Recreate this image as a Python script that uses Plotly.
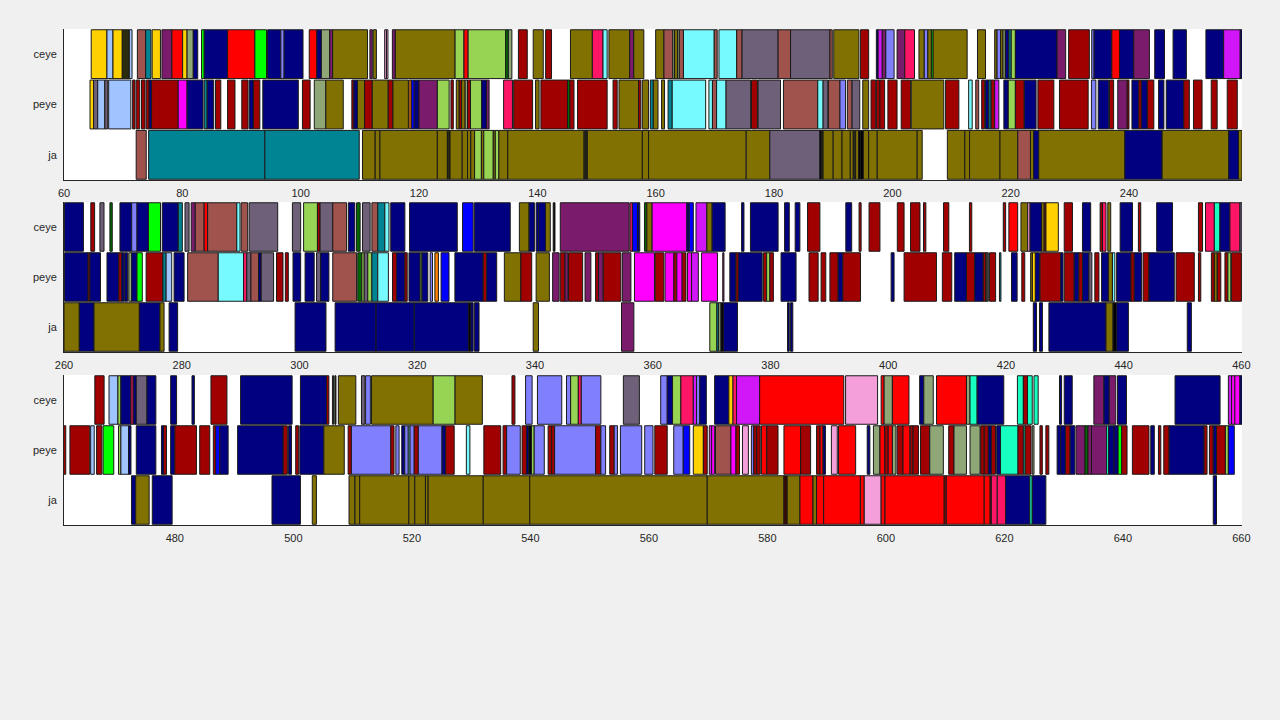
import plotly.graph_objects as go
from plotly.subplots import make_subplots

# ---------------- colours (named states) ----------------
COLORS = {
    "gold": "#FFD100", "lblue": "#A0C4FF", "dolive": "#2B2B0E", "sienna": "#A0524D",
    "teal": "#008494", "purple": "#7B1B6B", "red": "#FF0000", "ggreen": "#8FA677",
    "navy": "#000080", "green": "#00FF00", "peri": "#8080FF", "olive": "#817100",
    "dred": "#A00000", "magenta": "#FF00FF", "lgreen": "#97D454", "crimson": "#FF1565",
    "cyan": "#77FAFF", "mauve": "#6F607A", "violet": "#D116F7", "pink": "#F59FDA",
    "lpink": "#F8B4EC", "aqua": "#17FFC1", "blue": "#0000FF", "orange": "#FF8000",
    "dgreen": "#006A00", "black": "#000000", "dgray": "#404040", "dbrown": "#3A0A00",
}

CATEGORIES = ["ja", "peye", "ceye"]

# ---------------- segments: (start, end, state) ----------------
ROW1_CEYE = [
    (64.6, 67.26, "gold"), (67.26, 68.28, "lblue"), (68.28, 69.85, "gold"), (69.85, 71.04, "dolive"),
    (71.04, 71.5, "lblue"), (72.4, 73.8, "sienna"), (73.8, 74.7, "teal"), (74.9, 76.3, "gold"),
    (76.55, 78.24, "purple"), (78.24, 80.05, "red"), (80.05, 80.8, "gold"), (80.8, 81.85, "ggreen"),
    (81.85, 82.6, "navy"), (83.25, 83.7, "green"), (83.7, 87.65, "navy"), (87.65, 92.26, "red"),
    (92.26, 94.23, "green"), (94.4, 96.65, "navy"), (96.65, 97.2, "peri"), (97.2, 100.4, "navy"),
    (101.45, 102.74, "red"), (102.74, 103.5, "navy"), (103.5, 104.9, "ggreen"), (104.9, 105.4, "purple"),
    (105.4, 111.3, "olive"), (111.7, 112.1, "purple"), (112.25, 112.8, "olive"), (114.2, 114.5, "pink"),
    (114.5, 114.75, "lpink"), (115.5, 116.0, "purple"), (116.0, 126.1, "olive"), (126.1, 127.6, "lgreen"),
    (127.6, 128.3, "red"), (128.3, 134.65, "lgreen"), (134.65, 135.1, "dgreen"), (135.1, 135.7, "ggreen"),
    (136.8, 138.3, "dred"), (139.3, 141.0, "olive"), (141.4, 142.4, "dred"), (145.6, 149.3, "olive"),
    (149.3, 151.1, "crimson"), (151.1, 151.8, "cyan"), (152.1, 155.6, "olive"), (155.6, 156.3, "purple"),
    (156.3, 158.0, "olive"), (160.0, 161.4, "olive"), (161.4, 162.9, "sienna"), (162.9, 163.2, "ggreen"),
    (163.2, 163.7, "olive"), (163.7, 164.0, "ggreen"), (164.0, 164.7, "sienna"), (164.7, 169.9, "cyan"),
    (169.9, 170.4, "sienna"), (170.7, 173.7, "cyan"), (173.7, 174.6, "sienna"), (174.6, 180.7, "mauve"),
    (180.7, 182.8, "sienna"), (182.8, 189.45, "mauve"), (189.45, 189.85, "sienna"), (190.1, 194.35, "olive"),
    (194.6, 196.0, "dred"), (197.3, 197.6, "navy"), (197.6, 198.3, "violet"), (198.3, 198.9, "purple"),
    (198.9, 200.3, "peri"), (200.8, 202.1, "purple"), (202.1, 203.75, "crimson"), (204.5, 205.4, "olive"),
    (205.4, 206.0, "peri"), (206.0, 206.6, "olive"), (206.6, 206.9, "green"), (206.9, 212.65, "olive"),
    (214.4, 215.75, "olive"), (217.3, 217.7, "olive"), (217.7, 218.3, "peri"), (218.3, 218.7, "olive"),
    (218.7, 219.1, "ggreen"), (219.1, 219.7, "navy"), (219.7, 220.1, "teal"), (220.1, 220.8, "lgreen"),
    (220.8, 227.85, "navy"), (227.85, 229.3, "purple"), (229.8, 233.3, "dred"), (233.7, 234.1, "peri"),
    (234.1, 237.1, "navy"), (237.1, 238.4, "red"), (238.4, 240.8, "navy"), (240.8, 243.45, "purple"),
    (244.35, 246.0, "navy"), (247.45, 249.7, "navy"), (253.0, 256.0, "navy"), (256.0, 258.8, "violet"),
    (258.8, 259.1, "navy"),
]
ROW1_PEYE = [
    (64.4, 65.0, "gold"), (65.0, 65.7, "mauve"), (65.7, 66.9, "lblue"), (66.9, 67.4, "mauve"),
    (67.55, 71.3, "lblue"), (71.6, 72.0, "dred"), (72.2, 72.8, "dred"), (73.1, 73.7, "dred"),
    (73.9, 74.4, "dred"), (74.4, 74.8, "navy"), (74.8, 79.3, "dred"), (79.3, 80.8, "magenta"),
    (80.8, 83.5, "navy"), (83.7, 84.2, "teal"), (84.2, 85.3, "navy"), (85.6, 86.5, "dred"),
    (87.65, 88.9, "dred"), (90.05, 91.1, "dred"), (91.3, 92.0, "navy"), (92.0, 93.1, "dred"),
    (93.6, 99.6, "navy"), (100.3, 101.6, "dred"), (102.3, 104.25, "ggreen"), (104.25, 107.2, "olive"),
    (108.65, 109.0, "dred"), (109.0, 109.6, "navy"), (109.6, 110.8, "olive"), (110.8, 112.1, "dred"),
    (112.1, 114.8, "olive"), (114.8, 115.6, "dred"), (115.6, 118.2, "olive"), (118.3, 118.7, "orange"),
    (118.7, 119.2, "blue"), (119.2, 120.0, "navy"), (120.0, 123.1, "purple"), (123.1, 125.1, "lgreen"),
    (125.4, 125.8, "dred"), (126.3, 126.8, "olive"), (126.8, 127.2, "dred"), (127.2, 127.8, "olive"),
    (127.8, 128.2, "ggreen"), (128.2, 128.7, "dred"), (128.7, 130.6, "lgreen"), (130.6, 131.4, "navy"),
    (131.4, 131.85, "purple"), (134.3, 135.8, "crimson"), (136.0, 139.2, "dred"), (139.7, 140.3, "olive"),
    (140.6, 145.1, "dred"), (145.1, 145.5, "dgreen"), (145.5, 146.2, "dred"), (146.8, 151.8, "dred"),
    (152.8, 153.5, "dred"), (153.8, 157.1, "olive"), (157.1, 157.5, "dred"), (157.75, 158.8, "olive"),
    (159.1, 159.6, "teal"), (159.6, 160.4, "olive"), (161.0, 161.5, "olive"), (162.1, 162.8, "teal"),
    (162.8, 168.45, "cyan"), (169.0, 169.6, "cyan"), (169.6, 170.3, "sienna"), (170.3, 171.9, "cyan"),
    (171.9, 176.05, "mauve"), (176.2, 177.2, "dred"), (177.3, 181.1, "mauve"), (181.6, 187.4, "sienna"),
    (187.4, 188.3, "cyan"), (188.3, 189.1, "mauve"), (189.2, 191.15, "sienna"), (191.15, 192.1, "peri"),
    (192.4, 193.2, "sienna"), (193.2, 194.5, "mauve"), (195.0, 196.0, "olive"), (196.4, 197.2, "dred"),
    (197.3, 197.9, "dred"), (197.9, 198.7, "dred"), (199.25, 200.8, "dred"), (201.5, 203.1, "dred"),
    (203.2, 208.7, "olive"), (209.0, 211.25, "dred"), (212.9, 213.5, "cyan"), (214.1, 214.6, "sienna"),
    (215.1, 215.6, "dred"), (215.75, 216.3, "navy"), (216.3, 216.7, "teal"), (216.7, 217.3, "dred"),
    (217.3, 218.0, "violet"), (218.85, 219.6, "navy"), (219.6, 220.8, "lgreen"), (220.8, 222.3, "dred"),
    (222.3, 224.3, "navy"), (224.6, 227.3, "dred"), (228.25, 233.1, "dred"), (233.65, 234.4, "peri"),
    (234.8, 236.6, "navy"), (236.7, 237.4, "dred"), (238.1, 239.7, "purple"), (239.7, 240.0, "dred"),
    (240.5, 241.65, "navy"), (241.65, 242.1, "dred"), (242.1, 243.1, "navy"), (243.1, 244.2, "dred"),
    (245.0, 245.9, "navy"), (246.3, 249.25, "navy"), (249.25, 250.2, "dred"), (250.9, 252.35, "dred"),
    (253.9, 254.9, "dred"), (256.6, 258.3, "dred"),
]
ROW1_JA = [
    (72.2, 73.9, "sienna"), (74.3, 93.95, "teal"), (93.95, 109.9, "teal"), (110.45, 112.6, "olive"),
    (112.6, 113.4, "olive"), (113.4, 123.1, "olive"), (123.1, 124.8, "olive"), (124.8, 125.25, "dolive"),
    (125.25, 127.3, "olive"), (127.3, 128.2, "olive"), (128.2, 128.75, "olive"), (128.75, 129.4, "olive"),
    (129.4, 130.55, "lgreen"), (130.55, 130.95, "olive"), (130.95, 132.55, "lgreen"), (132.55, 132.9, "olive"),
    (132.9, 133.5, "lgreen"), (133.5, 135.0, "olive"), (135.0, 147.9, "olive"), (147.9, 148.2, "dolive"),
    (148.2, 148.45, "dolive"), (148.45, 157.75, "olive"), (157.75, 158.8, "olive"), (158.8, 175.3, "olive"),
    (175.3, 179.3, "olive"), (179.3, 187.75, "mauve"), (187.75, 188.0, "black"), (188.0, 188.3, "dolive"),
    (188.3, 190.0, "olive"), (190.0, 191.5, "olive"), (191.5, 192.9, "olive"), (192.9, 193.4, "olive"),
    (193.4, 193.8, "dolive"), (193.8, 194.3, "olive"), (194.3, 194.6, "black"), (194.6, 195.1, "black"),
    (195.1, 196.0, "olive"), (196.0, 197.45, "olive"), (197.45, 204.2, "olive"), (204.2, 205.05, "olive"),
    (209.3, 212.25, "olive"), (212.25, 213.05, "olive"), (213.05, 218.2, "olive"), (218.2, 221.2, "olive"),
    (221.2, 223.35, "sienna"), (223.35, 223.9, "olive"), (223.9, 224.75, "navy"), (224.75, 239.3, "olive"),
    (239.3, 245.6, "navy"), (245.6, 256.85, "olive"), (256.85, 258.5, "navy"), (258.5, 259.1, "olive"),
]

ROW2_CEYE = [
    (260.07, 263.3, "navy"), (264.55, 265.2, "dred"), (266.1, 266.8, "mauve"), (267.8, 268.2, "dgreen"),
    (269.5, 271.5, "navy"), (271.5, 272.4, "peri"), (272.4, 274.35, "navy"), (274.35, 276.4, "green"),
    (276.7, 279.4, "navy"), (279.4, 280.1, "teal"), (280.55, 281.25, "mauve"), (281.6, 282.3, "purple"),
    (282.3, 283.8, "sienna"), (283.8, 284.4, "red"), (284.4, 289.35, "sienna"), (289.35, 289.9, "cyan"),
    (290.1, 291.2, "sienna"), (291.45, 296.3, "mauve"), (298.8, 300.2, "mauve"), (300.7, 303.05, "lgreen"),
    (303.05, 303.5, "dred"), (303.5, 305.65, "mauve"), (305.65, 308.0, "sienna"), (308.3, 309.4, "navy"),
    (309.7, 310.3, "dgreen"), (310.7, 312.0, "mauve"), (312.3, 313.3, "sienna"), (313.3, 314.5, "teal"),
    (314.5, 315.2, "cyan"), (315.5, 317.9, "navy"), (318.7, 326.8, "navy"), (327.7, 329.5, "blue"),
    (329.7, 335.8, "navy"), (337.35, 339.0, "olive"), (339.0, 339.9, "navy"), (340.2, 340.6, "navy"),
    (340.6, 341.8, "navy"), (341.8, 342.6, "olive"), (343.1, 343.4, "black"), (344.3, 356.0, "purple"),
    (356.15, 356.55, "crimson"), (356.55, 357.45, "blue"), (357.45, 357.8, "navy"), (358.6, 359.0, "dgreen"),
    (359.0, 359.9, "olive"), (359.9, 365.8, "magenta"), (365.8, 366.2, "navy"), (366.2, 366.9, "blue"),
    (367.35, 369.2, "violet"), (369.2, 370.1, "olive"), (370.1, 372.3, "navy"), (375.1, 375.5, "navy"),
    (376.6, 381.3, "navy"), (382.4, 383.2, "navy"), (384.2, 385.0, "navy"), (386.3, 388.4, "dred"),
    (392.8, 393.8, "navy"), (395.05, 395.4, "dred"), (396.75, 398.6, "dred"), (401.55, 402.7, "dred"),
    (403.8, 405.4, "dred"), (406.0, 406.4, "dred"), (409.4, 410.3, "dred"), (413.8, 414.2, "dred"),
    (419.55, 419.95, "dred"), (420.5, 422.0, "red"), (422.55, 423.7, "olive"), (423.7, 424.1, "pink"),
    (424.1, 426.05, "navy"), (426.05, 426.5, "olive"), (426.5, 426.8, "dred"), (426.8, 428.9, "gold"),
    (429.9, 431.3, "dred"), (433.0, 434.4, "navy"), (436.0, 436.4, "dred"), (436.4, 437.0, "crimson"),
    (437.3, 437.8, "olive"), (439.4, 441.5, "navy"), (442.5, 442.9, "dred"), (445.6, 448.3, "navy"),
    (452.7, 453.4, "dred"), (453.9, 455.4, "crimson"), (455.4, 456.35, "aqua"), (456.35, 458.05, "navy"),
    (458.05, 459.75, "crimson"), (459.75, 460.1, "mauve"),
]
ROW2_PEYE = [
    (260.1, 264.1, "navy"), (264.1, 264.4, "dred"), (264.4, 266.2, "navy"), (267.3, 269.3, "navy"),
    (269.3, 269.8, "dred"), (269.8, 270.2, "navy"), (270.3, 270.8, "navy"), (271.0, 271.5, "ggreen"),
    (271.5, 272.4, "navy"), (272.4, 273.3, "green"), (273.95, 276.8, "dred"), (276.8, 277.35, "teal"),
    (277.35, 278.3, "lblue"), (278.7, 280.4, "navy"), (281.0, 286.2, "sienna"), (286.2, 290.5, "cyan"),
    (290.5, 291.05, "crimson"), (291.05, 291.75, "mauve"), (291.75, 293.05, "sienna"), (293.05, 293.5, "navy"),
    (293.5, 295.6, "mauve"), (296.1, 297.2, "dred"), (297.6, 298.1, "dred"), (298.9, 300.2, "navy"),
    (300.95, 302.5, "navy"), (302.9, 303.6, "mauve"), (303.6, 305.0, "navy"), (305.65, 309.7, "sienna"),
    (309.9, 310.6, "dgreen"), (310.6, 311.0, "lgreen"), (311.0, 311.6, "mauve"), (311.6, 312.3, "lgreen"),
    (312.3, 313.3, "teal"), (313.3, 315.1, "cyan"), (315.8, 316.5, "dred"), (316.5, 317.9, "navy"),
    (317.9, 318.3, "dred"), (318.6, 320.5, "navy"), (320.5, 320.8, "lgreen"), (320.8, 321.8, "navy"),
    (322.2, 322.6, "peri"), (323.0, 323.6, "orange"), (324.05, 325.4, "blue"), (326.4, 331.2, "navy"),
    (331.2, 331.8, "dred"), (331.8, 333.5, "navy"), (334.8, 337.6, "olive"), (337.6, 339.45, "dred"),
    (340.2, 342.45, "olive"), (343.0, 344.1, "purple"), (344.3, 345.1, "dred"), (345.1, 345.6, "purple"),
    (345.7, 348.1, "dred"), (348.5, 349.5, "purple"), (350.3, 350.8, "dred"), (350.8, 351.6, "purple"),
    (351.6, 354.6, "dred"), (354.85, 356.3, "purple"), (356.9, 360.3, "magenta"), (360.4, 361.9, "dred"),
    (362.1, 363.6, "magenta"), (363.6, 364.1, "dred"), (364.1, 365.0, "magenta"), (365.0, 365.65, "dred"),
    (365.9, 366.6, "magenta"), (366.6, 367.75, "violet"), (368.3, 371.0, "magenta"), (371.9, 372.1, "purple"),
    (373.1, 374.15, "navy"), (374.15, 374.55, "dred"), (374.55, 378.6, "navy"), (378.8, 379.35, "dred"),
    (379.35, 379.9, "lgreen"), (379.9, 380.5, "dred"), (381.8, 384.35, "navy"), (386.55, 388.1, "dred"),
    (388.6, 389.4, "dred"), (390.1, 391.5, "dred"), (391.5, 392.3, "navy"), (392.3, 395.3, "dred"),
    (400.5, 401.0, "navy"), (402.7, 408.2, "dred"), (409.2, 410.8, "dred"), (411.3, 413.3, "navy"),
    (413.3, 414.7, "dred"), (414.7, 416.15, "navy"), (416.15, 416.6, "dred"), (416.6, 417.0, "dgray"),
    (417.2, 418.25, "dred"), (418.9, 419.15, "teal"), (420.95, 421.9, "navy"), (422.7, 423.2, "dred"),
    (424.2, 424.5, "olive"), (424.5, 425.0, "gold"), (425.0, 425.7, "navy"), (425.8, 429.3, "dred"),
    (429.3, 429.7, "navy"), (429.9, 431.6, "dred"), (431.6, 432.4, "navy"), (432.4, 433.0, "dred"),
    (433.0, 434.1, "navy"), (434.1, 434.6, "mauve"), (435.1, 435.8, "dred"), (436.25, 437.4, "navy"),
    (437.4, 438.1, "olive"), (438.1, 438.5, "cyan"), (438.8, 441.25, "navy"), (441.25, 441.8, "dred"),
    (441.8, 443.05, "navy"), (443.3, 444.3, "dred"), (444.3, 448.6, "navy"), (448.9, 452.0, "dred"),
    (452.7, 453.1, "dred"), (454.9, 455.4, "dred"), (455.4, 455.9, "olive"), (455.9, 456.5, "dred"),
    (457.2, 457.7, "dred"), (457.7, 458.2, "lgreen"), (458.3, 460.0, "dred"),
]
ROW2_JA = [
    (260.0, 262.6, "olive"), (262.6, 265.1, "navy"), (265.1, 272.8, "olive"), (272.8, 276.3, "navy"),
    (276.3, 277.0, "olive"), (277.85, 279.3, "navy"), (299.25, 304.5, "navy"), (306.05, 313.0, "navy"),
    (313.0, 319.5, "navy"), (319.5, 328.7, "navy"), (328.7, 329.1, "black"), (329.1, 329.5, "navy"),
    (329.7, 330.5, "navy"), (339.7, 340.6, "olive"), (354.7, 356.8, "purple"), (369.7, 370.9, "lgreen"),
    (370.9, 371.2, "teal"), (371.2, 371.6, "ggreen"), (371.6, 372.0, "black"), (372.0, 374.4, "navy"),
    (382.9, 383.2, "navy"), (383.4, 383.8, "navy"), (424.65, 425.2, "navy"), (425.7, 426.2, "navy"),
    (427.3, 437.0, "navy"), (437.0, 438.2, "olive"), (438.2, 438.8, "black"), (438.8, 440.8, "navy"),
    (450.8, 451.5, "navy"),
]

ROW3_CEYE = [
    (466.5, 468.07, "dred"), (468.9, 470.4, "lblue"), (470.4, 470.9, "lgreen"), (470.9, 472.6, "navy"),
    (472.6, 472.97, "crimson"), (473.0, 473.5, "navy"), (473.5, 475.3, "mauve"), (475.3, 476.8, "navy"),
    (479.3, 480.3, "navy"), (482.9, 483.3, "navy"), (486.1, 488.8, "dred"), (491.1, 499.8, "navy"),
    (501.2, 505.6, "navy"), (505.6, 506.0, "dred"), (506.6, 506.8, "dolive"), (507.0, 507.2, "dolive"),
    (507.6, 510.55, "olive"), (511.5, 512.1, "mauve"), (512.2, 513.0, "peri"), (513.2, 523.6, "olive"),
    (523.6, 527.3, "lgreen"), (527.3, 531.9, "olive"), (536.9, 537.4, "dred"), (539.2, 540.3, "peri"),
    (541.2, 545.3, "peri"), (546.1, 546.8, "peri"), (546.8, 548.1, "lgreen"), (548.1, 548.6, "crimson"),
    (548.6, 551.9, "peri"), (555.7, 558.4, "mauve"), (562.0, 563.1, "peri"), (563.1, 564.0, "navy"),
    (564.0, 565.4, "lgreen"), (565.4, 567.5, "crimson"), (567.5, 568.05, "violet"), (568.05, 568.6, "peri"),
    (568.6, 569.7, "navy"), (571.1, 573.5, "navy"), (573.5, 574.2, "gold"), (574.2, 574.8, "crimson"),
    (574.8, 578.7, "violet"), (578.7, 592.9, "red"), (593.2, 598.6, "pink"), (599.2, 599.7, "red"),
    (599.7, 601.1, "ggreen"), (601.1, 603.9, "red"), (605.7, 606.4, "navy"), (606.4, 608.0, "ggreen"),
    (608.55, 613.6, "red"), (613.6, 614.2, "ggreen"), (614.2, 615.4, "aqua"), (615.4, 619.9, "navy"),
    (622.2, 623.2, "aqua"), (623.2, 623.9, "dred"), (623.9, 624.7, "aqua"), (625.0, 625.7, "aqua"),
    (629.3, 629.65, "navy"), (630.1, 631.45, "navy"), (635.1, 636.8, "purple"), (636.8, 637.7, "navy"),
    (637.7, 638.8, "purple"), (639.1, 640.6, "navy"), (648.8, 656.4, "navy"), (657.8, 658.35, "violet"),
    (658.35, 658.9, "magenta"), (658.9, 659.75, "magenta"), (659.75, 660.1, "navy"),
]
ROW3_PEYE = [
    (461.15, 461.6, "dred"), (462.3, 465.65, "dred"), (465.8, 466.4, "lblue"), (466.8, 467.7, "dred"),
    (467.9, 469.7, "green"), (470.5, 470.9, "lgreen"), (470.9, 472.2, "lblue"), (472.2, 472.6, "navy"),
    (473.5, 476.8, "navy"), (477.75, 478.1, "navy"), (478.1, 478.6, "dred"), (479.3, 480.0, "navy"),
    (480.0, 483.65, "dred"), (484.2, 485.9, "dred"), (486.5, 486.9, "dred"), (486.9, 487.6, "blue"),
    (487.6, 489.0, "navy"), (490.6, 498.3, "navy"), (498.3, 499.0, "dred"), (499.2, 499.7, "navy"),
    (500.4, 500.9, "dred"), (501.1, 505.15, "navy"), (505.15, 508.6, "olive"), (509.25, 509.8, "dred"),
    (509.8, 516.45, "peri"), (516.45, 517.0, "dred"), (517.3, 517.85, "peri"), (518.3, 518.8, "navy"),
    (518.8, 519.4, "peri"), (519.4, 519.7, "cyan"), (519.7, 520.4, "peri"), (520.4, 521.1, "dred"),
    (521.1, 525.1, "peri"), (525.1, 525.7, "navy"), (525.7, 527.15, "dred"), (529.2, 529.8, "cyan"),
    (532.15, 535.0, "dred"), (535.4, 536.0, "dred"), (536.0, 538.3, "peri"), (538.6, 539.35, "dred"),
    (539.35, 539.75, "navy"), (539.75, 540.2, "black"), (540.2, 540.65, "lgreen"), (540.65, 542.35, "peri"),
    (543.0, 543.6, "dred"), (543.6, 544.1, "dred"), (544.1, 551.0, "peri"), (551.0, 551.9, "dred"),
    (551.9, 552.7, "peri"), (553.4, 554.15, "dred"), (554.15, 554.7, "peri"), (555.2, 558.8, "peri"),
    (559.3, 560.7, "peri"), (561.0, 563.1, "dred"), (564.2, 565.8, "peri"), (565.8, 566.9, "blue"),
    (567.5, 569.2, "gold"), (569.2, 569.85, "dred"), (570.2, 570.6, "violet"), (570.6, 571.1, "magenta"),
    (571.25, 573.85, "sienna"), (573.85, 574.7, "magenta"), (574.7, 575.3, "dred"), (575.8, 576.8, "pink"),
    (577.3, 577.7, "peri"), (577.7, 578.2, "dred"), (578.2, 578.8, "dred"), (579.0, 579.9, "red"),
    (579.9, 581.8, "dred"), (582.8, 585.6, "red"), (585.6, 587.3, "dred"), (588.3, 588.9, "dred"),
    (588.9, 589.4, "red"), (589.4, 589.8, "navy"), (590.8, 591.8, "pink"), (592.0, 594.9, "red"),
    (596.85, 597.3, "navy"), (597.9, 599.0, "ggreen"), (599.0, 599.8, "red"), (599.8, 600.4, "dred"),
    (600.4, 601.1, "red"), (601.1, 601.7, "ggreen"), (601.9, 602.9, "dred"), (602.9, 604.05, "red"),
    (604.1, 604.6, "dred"), (604.6, 605.5, "dred"), (605.85, 607.4, "dred"), (607.4, 609.7, "ggreen"),
    (610.6, 611.5, "dred"), (611.5, 613.6, "ggreen"), (614.2, 615.9, "ggreen"), (616.0, 616.6, "dred"),
    (616.6, 617.3, "dred"), (617.3, 617.8, "navy"), (617.8, 618.5, "dred"), (618.7, 619.35, "navy"),
    (619.35, 622.3, "aqua"), (622.3, 623.2, "dred"), (623.2, 623.5, "aqua"), (623.5, 624.5, "dred"),
    (624.7, 625.0, "ggreen"), (626.0, 626.4, "dred"), (627.0, 627.5, "dred"), (628.9, 629.5, "navy"),
    (629.5, 630.3, "navy"), (630.3, 631.1, "dred"), (631.1, 631.9, "navy"), (632.1, 633.6, "purple"),
    (633.6, 634.1, "dgreen"), (634.1, 634.7, "purple"), (634.7, 637.25, "purple"), (637.25, 637.6, "aqua"),
    (637.6, 638.5, "navy"), (638.5, 639.2, "navy"), (639.2, 639.8, "green"), (639.8, 640.7, "dred"),
    (641.6, 644.4, "dred"), (644.7, 645.3, "navy"), (646.0, 646.4, "dred"), (646.9, 647.8, "dred"),
    (647.8, 653.7, "navy"), (653.7, 654.2, "dred"), (654.6, 655.25, "dred"), (655.25, 655.8, "navy"),
    (655.8, 657.3, "dred"), (657.3, 657.8, "lgreen"), (657.8, 658.8, "blue"),
]
ROW3_JA = [
    (472.7, 473.4, "navy"), (473.4, 475.67, "olive"), (476.2, 479.55, "navy"), (496.4, 501.2, "navy"),
    (503.2, 503.9, "olive"), (509.4, 510.4, "olive"), (510.4, 511.2, "olive"), (511.2, 519.5, "olive"),
    (519.5, 520.5, "olive"), (520.5, 522.3, "olive"), (522.3, 522.75, "olive"), (522.75, 532.05, "olive"),
    (532.05, 539.9, "olive"), (539.9, 569.85, "olive"), (569.85, 582.8, "olive"), (582.8, 583.35, "dbrown"),
    (583.35, 585.5, "olive"), (585.5, 587.7, "red"), (587.7, 588.3, "olive"), (588.3, 589.5, "red"),
    (589.5, 595.7, "red"), (595.7, 596.35, "red"), (596.35, 599.2, "pink"), (599.2, 599.85, "red"),
    (599.85, 609.85, "red"), (609.85, 610.2, "dred"), (610.2, 616.6, "red"), (616.6, 617.6, "red"),
    (617.6, 617.8, "dred"), (617.8, 618.8, "crimson"), (618.8, 620.2, "crimson"), (620.2, 624.3, "navy"),
    (624.3, 624.7, "aqua"), (624.7, 627.0, "navy"), (655.25, 655.8, "navy"),
]

ROWS = [
    {"ceye": ROW1_CEYE, "peye": ROW1_PEYE, "ja": ROW1_JA},
    {"ceye": ROW2_CEYE, "peye": ROW2_PEYE, "ja": ROW2_JA},
    {"ceye": ROW3_CEYE, "peye": ROW3_PEYE, "ja": ROW3_JA},
]
X_RANGES = [(60, 259.1), (260, 460.1), (461.3, 660.1)]
X_TICKS = [list(range(60, 241, 20)), list(range(260, 461, 20)), list(range(480, 661, 20))]

# ---------------- figure ----------------
fig = make_subplots(rows=3, cols=1)

for r, row in enumerate(ROWS, start=1):
    for cat in CATEGORIES:
        segs = row[cat]
        fig.add_trace(
            go.Bar(
                orientation="h",
                y=[cat] * len(segs),
                base=[s[0] for s in segs],
                x=[s[1] - s[0] for s in segs],
                width=0.97,
                marker=dict(color=[COLORS[s[2]] for s in segs],
                            line=dict(color="#1a1a1a", width=1)),
                showlegend=False,
                hovertemplate=cat + ": %{base:.1f} + %{x:.1f}<extra></extra>",
            ),
            row=r, col=1,
        )

# pixel layout: plot area x 64..1242, rows at y 29-180, 202-352, 375-525
H_TOP, H_BOT = 29, 525
span = H_BOT - H_TOP
row_px = [(29, 180), (202, 352), (375, 525)]
font = dict(family="Liberation Sans, Arial, Helvetica, sans-serif", size=11, color="#262626")

for i, (y0, y1) in enumerate(row_px, start=1):
    dom = [(H_BOT - y1) / span, (H_BOT - y0) / span]
    fig.update_yaxes(
        domain=dom, type="category", categoryorder="array", categoryarray=CATEGORIES,
        range=[-0.5, 2.5], showline=True, linecolor="#262626", linewidth=1,
        showgrid=False, zeroline=False, ticks="", tickfont=font, ticklabelstandoff=4,
        row=i, col=1,
    )
    fig.update_xaxes(
        range=list(X_RANGES[i - 1]), tickvals=X_TICKS[i - 1], showline=True,
        linecolor="#262626", linewidth=1, showgrid=False, zeroline=False, ticks="",
        tickfont=font, ticklabelstandoff=3, row=i, col=1,
    )

fig.update_layout(
    width=1280, height=720, barmode="overlay",
    paper_bgcolor="#F0F0F0", plot_bgcolor="#FFFFFF",
    margin=dict(l=64, r=38, t=H_TOP, b=720 - H_BOT, autoexpand=False),
    font=font,
)

fig.write_html("out.html")
